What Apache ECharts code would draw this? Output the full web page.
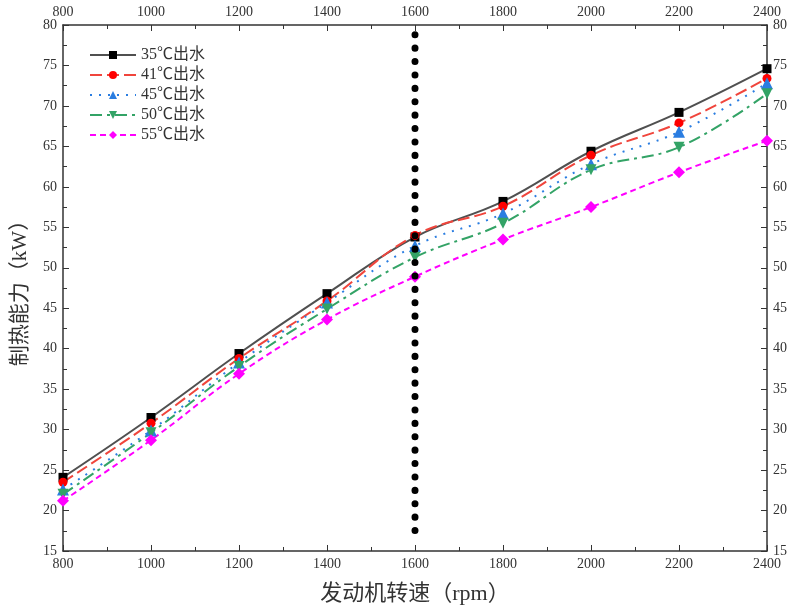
<!DOCTYPE html>
<html>
<head>
<meta charset="utf-8">
<script src="https://cdn.jsdelivr.net/npm/echarts@6/dist/echarts.min.js"></script>
<style>html,body{margin:0;padding:0;background:#fff;}#c{width:791px;height:610px;}</style>
</head>
<body>
<div id="c"></div>
<script>
const speeds = [800, 1000, 1200, 1400, 1600, 1800, 2000, 2200, 2400];
const seriesNames = ['35℃出水', '41℃出水', '45℃出水', '50℃出水', '55℃出水'];
const s35 = [24.1, 31.5, 39.4, 46.8, 53.8, 58.2, 64.4, 69.2, 74.6];
const s41 = [23.5, 30.8, 38.8, 45.9, 54.0, 57.6, 63.9, 67.9, 73.4];
const s45 = [22.6, 29.9, 38.3, 45.7, 52.7, 56.7, 62.8, 66.8, 72.8];
const s50 = [22.0, 29.6, 37.8, 44.9, 51.3, 55.5, 62.1, 64.9, 71.5];
const s55 = [21.2, 28.7, 36.9, 43.6, 48.9, 53.5, 57.5, 61.8, 65.7];
const dividerX = 1600;
const dividerRange = [78.8, 16.0];

const font = "'Liberation Serif', 'Noto Sans CJK SC', serif";
const chart = echarts.init(document.getElementById('c'));

const styles = [
  {color: '#505050', mcolor: '#000000', type: 'solid', symbol: 'rect', size: 9},
  {color: '#f0453c', mcolor: '#ff0000', type: [12, 5], symbol: 'circle', size: 9},
  {color: '#2a7de1', mcolor: '#2a7de1', type: [2, 7], symbol: 'triangle', size: 12},
  {color: '#33a366', mcolor: '#33a366', type: [12, 5, 3, 5], symbol: 'path://M0,0 L10,0 L5,10 Z', size: 11},
  {color: '#ff00ff', mcolor: '#ff00ff', type: [6, 4], symbol: 'diamond', size: 12}
];
const values = [s35, s41, s45, s50, s55];

const series = values.map((v, i) => ({
  name: seriesNames[i],
  type: 'line',
  smooth: 0.4,
  data: speeds.map((x, j) => [x, v[j]]),
  symbol: styles[i].symbol,
  symbolSize: styles[i].size,
  showAllSymbol: true,
  lineStyle: {color: styles[i].color, width: 2, type: styles[i].type},
  itemStyle: {color: styles[i].mcolor},
  z: 3
}));

series.push({
  name: 'divider',
  type: 'line',
  data: dividerRange.map(y => [dividerX, y]),
  symbol: 'none',
  lineStyle: {color: '#000', width: 7, type: [0.1, 13.3], cap: 'round'},
  z: 5,
  silent: true
});

const xCommon = {
  type: 'value', min: 800, max: 2400, interval: 200,
  axisLine: {lineStyle: {color: '#333', width: 1.5}},
  axisTick: {inside: true, length: 6, lineStyle: {color: '#333'}},
  minorTick: {show: true, splitNumber: 2, length: 4, lineStyle: {color: '#333'}},
  axisLabel: {fontFamily: font, fontSize: 14, color: '#333', margin: 6, formatter: v => String(v)},
  splitLine: {show: false}
};
const yCommon = {
  type: 'value', min: 15, max: 80, interval: 5,
  axisLine: {show: true, lineStyle: {color: '#333', width: 1.5}},
  axisTick: {inside: true, length: 6, lineStyle: {color: '#333'}},
  minorTick: {show: true, splitNumber: 2, length: 4, lineStyle: {color: '#333'}},
  axisLabel: {fontFamily: font, fontSize: 14, color: '#333', margin: 6, formatter: v => String(v)},
  splitLine: {show: false}
};

chart.setOption({
  animation: false,
  backgroundColor: '#fff',
  grid: {left: 63, right: 24, top: 25, bottom: 55},
  legend: {
    data: seriesNames,
    orient: 'vertical',
    left: 84, top: 42,
    itemWidth: 46, itemHeight: 10, itemGap: 4,
    textStyle: {fontFamily: font, fontSize: 16, color: '#333'}
  },
  xAxis: [
    Object.assign({}, xCommon, {
      position: 'bottom',
      name: '发动机转速（rpm）', nameLocation: 'middle', nameGap: 32,
      nameTextStyle: {fontFamily: font, fontSize: 22, color: '#333'}
    }),
    Object.assign({}, xCommon, {position: 'top'})
  ],
  yAxis: [
    Object.assign({}, yCommon, {
      position: 'left',
      name: '制热能力（kW）', nameLocation: 'middle', nameGap: 32,
      nameTextStyle: {fontFamily: font, fontSize: 21, color: '#333'}
    }),
    Object.assign({}, yCommon, {position: 'right'})
  ],
  series: series
});
</script>
</body>
</html>
